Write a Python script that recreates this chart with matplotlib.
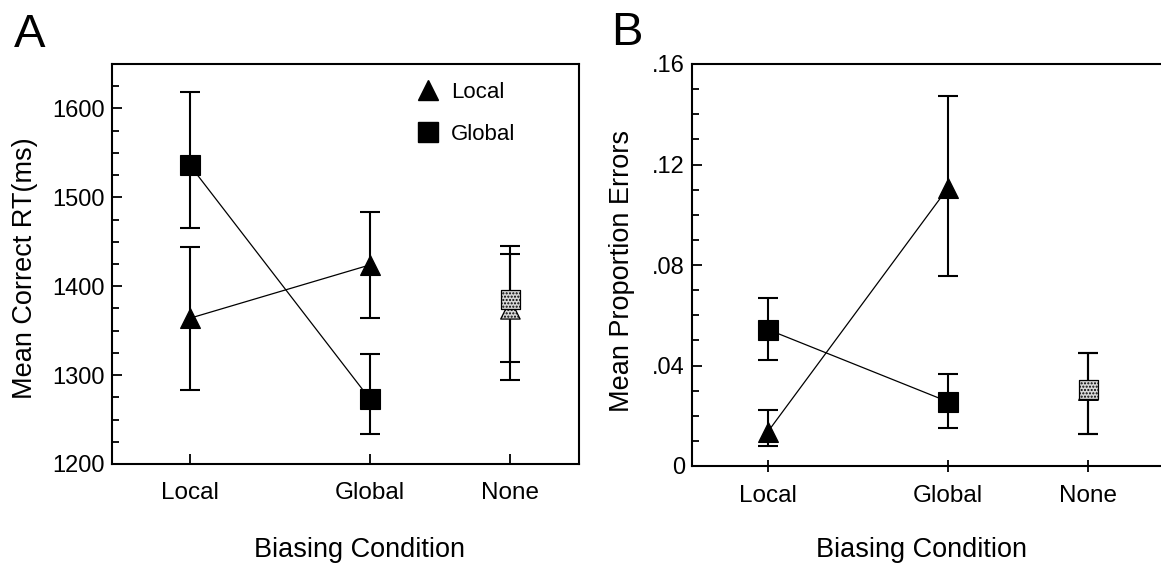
import matplotlib.pyplot as plt
from matplotlib.lines import Line2D
from matplotlib.ticker import MultipleLocator

plt.rcParams['font.family'] = ['Liberation Sans', 'DejaVu Sans']
plt.rcParams['hatch.linewidth'] = 1.0

# conditions and their x positions (None sits closer to Global in the original)
conditions = ['Local', 'Global', 'None']
x_pos = [1, 2, 2.78]

# panel A: mean correct RT (ms)
rt_local = [1364, 1424, 1374]
rt_local_lo = [1283, 1364, 1315]
rt_local_hi = [1444, 1484, 1436]
rt_global = [1536, 1273, 1385]
rt_global_lo = [1465, 1234, 1294]
rt_global_hi = [1618, 1324, 1445]

# panel B: mean proportion errors
pe_local = [0.0137, 0.1107, 0.0300]
pe_local_lo = [0.0081, 0.0757, 0.0129]
pe_local_hi = [0.0221, 0.1473, 0.0451]
pe_global = [0.0543, 0.0256, 0.0304]
pe_global_lo = [0.0423, 0.0153, 0.0129]
pe_global_hi = [0.0670, 0.0368, 0.0451]

rt_ticks = [1200, 1300, 1400, 1500, 1600]
pe_ticks = [0, 0.04, 0.08, 0.12, 0.16]
pe_ticklabels = ['0', '.04', '.08', '.12', '.16']


def draw_series(ax, means, lo, hi, marker):
    yerr = [[m - l for m, l in zip(means, lo)], [h - m for m, h in zip(means, hi)]]
    ax.errorbar(x_pos, means, yerr=yerr, fmt='none', ecolor='black',
                elinewidth=1.5, capsize=7, capthick=1.5, zorder=2)
    # line only between the two biased conditions
    ax.plot(x_pos[:2], means[:2], color='black', lw=0.9, zorder=2)
    ax.plot(x_pos[:2], means[:2], linestyle='none', marker=marker, ms=14,
            mfc='black', mec='black', mew=0.8, zorder=3)
    ax.scatter(x_pos[2:], means[2:], marker=marker, s=14 ** 2, facecolor='#d8d8d8',
               edgecolor='black', hatch='.....', linewidth=0.9, zorder=3)


def style_axes(ax, x_dir):
    for s in ax.spines.values():
        s.set_linewidth(1.5)
    ax.set_xticks(x_pos)
    ax.set_xticklabels(conditions, fontsize=17.5)
    ax.tick_params(axis='y', which='major', direction='in', length=7, width=1.3,
                   labelsize=17, pad=5)
    ax.tick_params(axis='y', which='minor', direction='in', length=5, width=1.3)
    ax.tick_params(axis='x', which='major', direction=x_dir,
                   length=7 if x_dir == 'in' else 9, width=1.3,
                   pad=13 if x_dir == 'in' else 9)
    ax.tick_params(top=False, right=False)


fig = plt.figure(figsize=(11.61, 5.65), dpi=100)

# ---- panel A
axA = fig.add_axes([112 / 1161, 1 - 464 / 565, 467 / 1161, 400 / 565])
draw_series(axA, rt_local, rt_local_lo, rt_local_hi, '^')
draw_series(axA, rt_global, rt_global_lo, rt_global_hi, 's')
axA.set_xlim(0.567, 3.161)
axA.set_ylim(1200, 1650)
axA.set_yticks(rt_ticks)
axA.yaxis.set_minor_locator(MultipleLocator(25))
style_axes(axA, 'in')

handles = [Line2D([], [], ls='none', marker='^', ms=14, color='black'),
           Line2D([], [], ls='none', marker='s', ms=14, color='black')]
axA.legend(handles, ['Local', 'Global'], loc='upper left',
           bbox_to_anchor=(0.652, 0.955), frameon=False, fontsize=16,
           borderpad=0, handlelength=1.0, handletextpad=0.55, labelspacing=0.95,
           borderaxespad=0)

# ---- panel B
axB = fig.add_axes([692 / 1161, 1 - 466 / 565, 472 / 1161, 402 / 565])
draw_series(axB, pe_local, pe_local_lo, pe_local_hi, '^')
draw_series(axB, pe_global, pe_global_lo, pe_global_hi, 's')
axB.set_xlim(0.578, 3.2)
axB.set_ylim(0, 0.16)
axB.set_yticks(pe_ticks)
axB.set_yticklabels(pe_ticklabels)
axB.yaxis.set_minor_locator(MultipleLocator(0.01))
style_axes(axB, 'inout')

# labels
fig.text(14 / 1161, 1 - 47 / 565, 'A', fontsize=34, va='baseline')
fig.text(611 / 1161, 1 - 45 / 565, 'B', fontsize=34, va='baseline')
fig.text(25 / 1161, 1 - 268 / 565, 'Mean Correct RT(ms)', rotation=90,
         ha='center', va='center', fontsize=19.5)
fig.text(622 / 1161, 1 - 271 / 565, 'Mean Proportion Errors', rotation=90,
         ha='center', va='center', fontsize=19.5)
fig.text(360 / 1161, 1 - 557 / 565, 'Biasing Condition', ha='center',
         va='baseline', fontsize=19.5)
fig.text(921 / 1161, 1 - 557 / 565, 'Biasing Condition', ha='center',
         va='baseline', fontsize=19.5)

fig.savefig('out.png', dpi=100)
